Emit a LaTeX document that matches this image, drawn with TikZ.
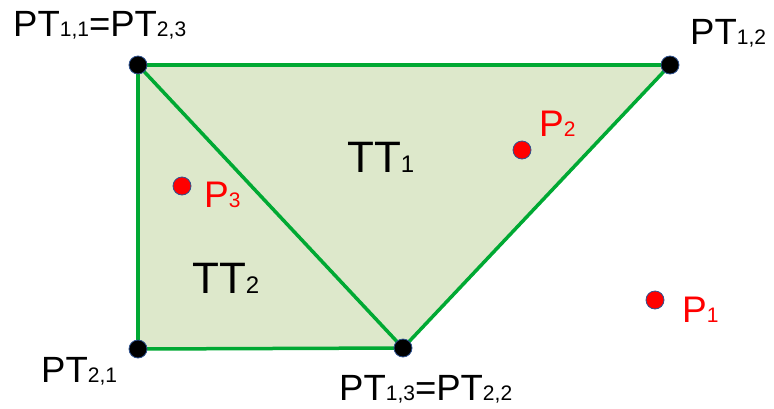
\documentclass[tikz,border=0pt]{standalone}
\usepackage{fontspec}
\setmainfont{Liberation Sans}
\usepackage{xcolor}
\usepackage{tikz}
\usetikzlibrary{positioning}
\definecolor{edgegreen}{HTML}{00A933}
\definecolor{areagreen}{HTML}{DDE8CB}
\definecolor{dotrim}{HTML}{2F528F}
\newcommand{\idx}[2][21]{{\fontsize{#1}{#1}\selectfont #2}}
\tikzset{
    edge/.style = {draw=edgegreen, line width=3.5pt},
    area/.style = {fill=areagreen},
    vertex/.style = {circle, inner sep=0pt, minimum size=18pt, fill=black, draw=dotrim, line width=0.8pt},
    probe/.style = {circle, inner sep=0pt, minimum size=18pt, fill=red, draw=dotrim, line width=0.8pt},
    ptlabel/.style = {anchor=base west, inner sep=0pt, font=\fontsize{36.5}{36}\selectfont, text=black},
    ttlabel/.style = {anchor=base west, inner sep=0pt, font=\fontsize{44}{44}\selectfont, text=black},
    plabel/.style = {anchor=base west, inner sep=0pt, font=\fontsize{37}{37}\selectfont, text=red}
}
\begin{document}
\begin{tikzpicture}[x=1pt, y=-1pt]
    \useasboundingbox (0,0) rectangle (774,408);

    \coordinate (a) at (138,65);
    \coordinate (b) at (670,65);
    \coordinate (c) at (403,348);
    \coordinate (d) at (138,349);

    \fill [area] (a) -- (b) -- (c) -- (d) -- cycle;
    \draw [edge] (a) -- (b);
    \draw [edge] (b) -- (c);
    \draw [edge] (c) -- (d);
    \draw [edge] (d) -- (a);
    \draw [edge] (a) -- (c);

    \node [vertex] (pa) at (a) {};
    \node [vertex] (pb) at (b) {};
    \node [vertex] (pc) at (c) {};
    \node [vertex] (pd) at (d) {};

    \node [probe] (p1) at (655,300) {};
    \node [probe] (p2) at (522,150) {};
    \node [probe] (p3) at (182,186) {};

    \node [ptlabel] (la) at (13,36) {PT\idx{1,1}=PT\idx{2,3}};
    \node [ptlabel] (lb) at (690,44) {PT\idx{1,2}};
    \node [ptlabel] (ld) at (41,382) {PT\idx{2,1}};
    \node [ptlabel] (lc) at (339,400) {PT\idx{1,3}=PT\idx{2,2}};

    \node [ttlabel] (t1) at (347,172) {TT\idx[24]{1}};
    \node [ttlabel] (t2) at (192,293) {TT\idx[24]{2}};

    \node [plabel] (l1) at (682,322) {P\idx{1}};
    \node [plabel] (l2) at (539,136) {P\idx{2}};
    \node [plabel] (l3) at (204,207) {P\idx{3}};
\end{tikzpicture}
\end{document}
